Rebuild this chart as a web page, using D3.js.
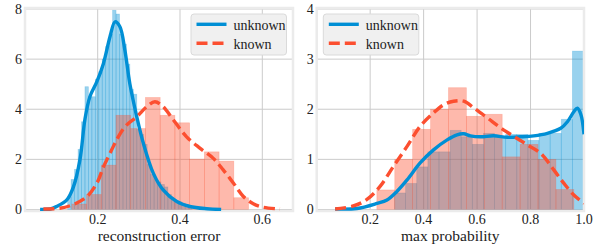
<!DOCTYPE html>
<html>
<head>
<meta charset="utf-8">
<script src="https://cdn.jsdelivr.net/npm/d3@7"></script>
<style>
  body { margin: 0; background: #fff; }
  svg text { font-family: "Liberation Serif", "DejaVu Serif", serif; fill: #222; }
</style>
</head>
<body>
<svg id="chart" width="600" height="246"></svg>
<script>
var blue = "#008fd5", red = "#fc4f30";

// left panel: reconstruction error
var errUnknownStart = 0.127, errUnknownWidth = 0.0084;
var errUnknownHist = [0.5, 1.2, 1.6, 2.4, 3.5, 4.9, 4.5, 4.5, 5.2, 5.5, 6.0, 6.5, 7.0, 7.95, 7.8, 7.0,
    6.6, 5.8, 4.8, 4.6, 3.2, 3.0, 2.6, 1.8, 1.4, 1.2, 1.1, 1.0, 0.9, 0.6, 0.4, 0.35, 0.3, 0.25, 0.2, 0.1];
var errKnownStart = 0.137, errKnownWidth = 0.0358;
var errKnownHist = [0.22, 0.6, 1.77, 3.76, 3.23, 4.47, 3.76, 3.46, 2.01, 2.3, 1.93, 0.47];
var errUnknownKde = [[0.06, 0], [0.085, 0.02], [0.1, 0.12], [0.125, 0.38], [0.141, 0.9], [0.157, 2.0],
    [0.169, 3.6], [0.181, 4.5], [0.198, 5.1], [0.214, 5.83], [0.23, 6.9], [0.242, 7.49], [0.254, 7.29],
    [0.266, 6.36], [0.278, 5.03], [0.295, 3.7], [0.311, 2.64], [0.335, 1.45], [0.359, 0.78],
    [0.392, 0.32], [0.424, 0.12], [0.465, 0.03], [0.5, 0]];
var errKnownKde = [[0.068, 0.02], [0.108, 0.05], [0.141, 0.2], [0.173, 0.5], [0.198, 1.05], [0.214, 1.7],
    [0.234, 2.38], [0.25, 2.9], [0.27, 3.37], [0.295, 3.7], [0.319, 4.1], [0.339, 4.3], [0.359, 4.1],
    [0.384, 3.57], [0.416, 2.9], [0.449, 2.44], [0.481, 2.04], [0.505, 1.58], [0.53, 1.05],
    [0.554, 0.52], [0.578, 0.23], [0.602, 0.09], [0.643, 0.02]];

// right panel: max probability
var probUnknownStart = 0.291, probUnknownWidth = 0.0416;
var probUnknownHist = [0.33, 0.52, 0.85, 1.15, 1.15, 1.58, 1.45, 1.3, 1.52, 1.45, 1.5, 1.5, 1.38, 1.52, 1.52, 1.8, 3.16];
var probKnownStart = 0.225, probKnownWidth = 0.067;
var probKnownHist = [0.39, 1.0, 1.6, 2.0, 2.43, 1.86, 1.9, 1.05, 1.3, 1.0, 0.4];
var probUnknownKde = [[0.069, 0.01], [0.15, 0.02], [0.225, 0.12], [0.263, 0.19], [0.3, 0.36], [0.338, 0.59],
    [0.387, 0.93], [0.437, 1.19], [0.488, 1.39], [0.525, 1.49], [0.55, 1.51], [0.575, 1.47], [0.612, 1.45],
    [0.662, 1.47], [0.713, 1.44], [0.763, 1.45], [0.812, 1.47], [0.863, 1.52], [0.913, 1.62],
    [0.938, 1.75], [0.962, 1.95], [0.975, 2.02], [0.988, 1.9], [1.0, 1.5]];
var probKnownKde = [[0.069, 0.01], [0.137, 0.07], [0.188, 0.2], [0.237, 0.46], [0.287, 0.86], [0.338, 1.26],
    [0.387, 1.66], [0.437, 1.93], [0.475, 2.09], [0.512, 2.16], [0.55, 2.16], [0.587, 2.03], [0.638, 1.83],
    [0.688, 1.63], [0.737, 1.46], [0.788, 1.29], [0.838, 1.12], [0.887, 0.79], [0.925, 0.52],
    [0.962, 0.29], [1.0, 0.12]];

var seriesNames = ["unknown", "known"];

var panels = [
    { left: 25, right: 293, xDomain: [0.02333, 0.6746], yDomain: [-0.06, 8.04],
      xTicks: [0.2, 0.4, 0.6], yTicks: [0, 2, 4, 6, 8], label: "reconstruction error",
      hists: [[errUnknownStart, errUnknownWidth, errUnknownHist], [errKnownStart, errKnownWidth, errKnownHist]],
      kdes: [errUnknownKde, errKnownKde], legendX: 191 },
    { left: 316.7, right: 584, xDomain: [0, 1], yDomain: [-0.03, 4.02],
      xTicks: [0.2, 0.4, 0.6, 0.8, 1.0], yTicks: [0, 1, 2, 3, 4], label: "max probability",
      hists: [[probUnknownStart, probUnknownWidth, probUnknownHist], [probKnownStart, probKnownWidth, probKnownHist]],
      kdes: [probUnknownKde, probKnownKde], legendX: 323.3 }
];

var svg = d3.select("#chart");
var plotTop = 8, plotBottom = 211;
var colors = [blue, red];

panels.forEach(function (p, pi) {
    var x = d3.scaleLinear().domain(p.xDomain).range([p.left, p.right]);
    var y = d3.scaleLinear().domain(p.yDomain).range([plotBottom, plotTop]);
    var g = svg.append("g");

    g.append("clipPath").attr("id", "clip" + pi)
        .append("rect")
        .attr("x", p.left).attr("y", plotTop)
        .attr("width", p.right - p.left).attr("height", plotBottom - plotTop);

    // grid
    g.selectAll(".vgrid").data(p.xTicks).enter().append("line")
        .attr("x1", d => x(d)).attr("x2", d => x(d))
        .attr("y1", plotTop).attr("y2", plotBottom)
        .attr("stroke", "#cbcbcb").attr("stroke-width", 1);
    g.selectAll(".hgrid").data(p.yTicks).enter().append("line")
        .attr("x1", p.left).attr("x2", p.right)
        .attr("y1", d => y(d)).attr("y2", d => y(d))
        .attr("stroke", "#cbcbcb").attr("stroke-width", 1);

    // histograms
    p.hists.forEach(function (h, si) {
        var start = h[0], w = h[1];
        g.append("g").attr("clip-path", "url(#clip" + pi + ")")
            .selectAll("rect").data(h[2]).enter().append("rect")
            .attr("x", (d, i) => x(start + i * w))
            .attr("width", (d, i) => x(start + (i + 1) * w) - x(start + i * w))
            .attr("y", d => y(d))
            .attr("height", d => y(0) - y(d))
            .attr("fill", colors[si]).attr("fill-opacity", 0.4)
            .attr("stroke", colors[si]).attr("stroke-opacity", 0.25)
            .attr("stroke-width", 0.7);
    });

    // frame
    g.append("rect")
        .attr("x", p.left).attr("y", plotTop)
        .attr("width", p.right - p.left).attr("height", plotBottom - plotTop)
        .attr("fill", "none").attr("stroke", "#ebebeb").attr("stroke-width", 2.5);

    // kde lines
    var line = d3.line().x(d => x(d[0])).y(d => y(d[1])).curve(d3.curveCatmullRom);
    p.kdes.forEach(function (k, si) {
        g.append("path")
            .attr("clip-path", "url(#clip" + pi + ")")
            .attr("d", line(k))
            .attr("fill", "none")
            .attr("stroke", colors[si])
            .attr("stroke-width", 3.4)
            .attr("stroke-dasharray", si === 1 ? "11,5" : null);
    });

    // ticks
    g.selectAll(".xt").data(p.xTicks).enter().append("text")
        .attr("x", d => x(d)).attr("y", 224)
        .attr("text-anchor", "middle").style("font-size", "14px")
        .text(d => d3.format(".1f")(d));
    g.selectAll(".yt").data(p.yTicks).enter().append("text")
        .attr("x", p.left - 3).attr("y", d => y(d) + 5)
        .attr("text-anchor", "end").style("font-size", "14px")
        .text(d => d);

    g.append("text")
        .attr("x", (p.left + p.right) / 2).attr("y", 241)
        .attr("text-anchor", "middle").style("font-size", "15.5px")
        .text(p.label);

    // legend
    var lg = g.append("g").attr("transform", "translate(" + p.legendX + ",14)");
    lg.append("rect").attr("width", 95.5).attr("height", 41).attr("rx", 3)
        .attr("fill", "#f0f0f0").attr("stroke", "#dadada").attr("stroke-width", 1);
    seriesNames.forEach(function (name, si) {
        lg.append("line")
            .attr("x1", 5.5).attr("x2", 35.5)
            .attr("y1", 10.3 + si * 19).attr("y2", 10.3 + si * 19)
            .attr("stroke", colors[si]).attr("stroke-width", 3.4)
            .attr("stroke-dasharray", si === 1 ? "11,5" : null);
        lg.append("text")
            .attr("x", 42.5).attr("y", 15.5 + si * 19)
            .style("font-size", "14px")
            .text(name);
    });
});
</script>
</body>
</html>
